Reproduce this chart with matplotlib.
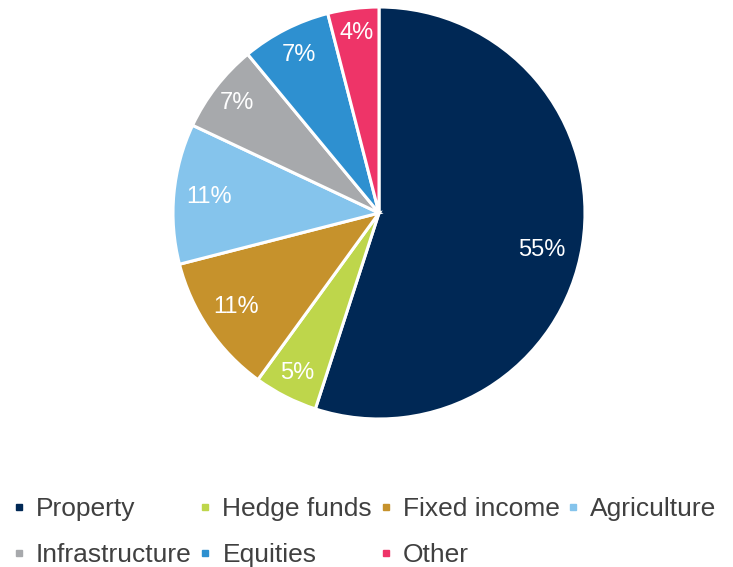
import numpy as np
import matplotlib.pyplot as plt
from matplotlib.lines import Line2D

plt.rcParams['font.family'] = ['Liberation Sans', 'DejaVu Sans']

# allocation by asset class (%)
labels = ["Property", "Hedge funds", "Fixed income", "Agriculture",
          "Infrastructure", "Equities", "Other"]
shares = [55, 5, 11, 11, 7, 7, 4]
colours = ["#002855", "#BED64B", "#C6922C", "#85C4EC",
           "#A7A9AC", "#2E90D0", "#EE3468"]

# where each percentage sits: fraction of radius, and a small turn (deg)
label_radius = [0.81, 0.87, 0.83, 0.83, 0.87, 0.86, 0.88]
label_turn = [-3.8, 0, -1.0, 0, 0, 0, 0]

W, H = 733, 567
fig = plt.figure(figsize=(W / 100, H / 100), dpi=100)

# pie centred at (379, 213) px with radius 206 px
cx, cy, r = 379, 213, 206
ax = fig.add_axes([(cx - r) / W, (H - cy - r) / H, 2 * r / W, 2 * r / H])
wedges, texts, autotexts = ax.pie(
    shares, colors=colours, startangle=90, counterclock=False,
    autopct=lambda p: "{:.0f}%".format(p),
    wedgeprops=dict(edgecolor="white", linewidth=2.2),
    textprops=dict(color="white", fontsize=17))
for w, t, rad, turn in zip(wedges, autotexts, label_radius, label_turn):
    mid = np.deg2rad((w.theta1 + w.theta2) / 2 + turn)
    t.set_position((rad * np.cos(mid), rad * np.sin(mid)))
ax.set_xlim(-1, 1)
ax.set_ylim(-1, 1)
ax.set_aspect("equal")
ax.axis("off")

# legend is filled column by column, so reorder to read row-wise
order = [0, 4, 1, 5, 2, 6, 3]
handles = [Line2D([], [], marker="s", linestyle="none", markersize=5,
                  color=colours[i]) for i in order]
fig.legend(handles, [labels[i] for i in order], ncol=4,
           loc="upper left", bbox_to_anchor=(15 / W, 1 - 497 / H),
           frameon=False, fontsize=19, handlelength=0.3,
           handletextpad=0.5, columnspacing=0.36, labelspacing=0.83,
           labelcolor="#404040", borderaxespad=0, borderpad=0)

fig.savefig("out.png", dpi=100)
